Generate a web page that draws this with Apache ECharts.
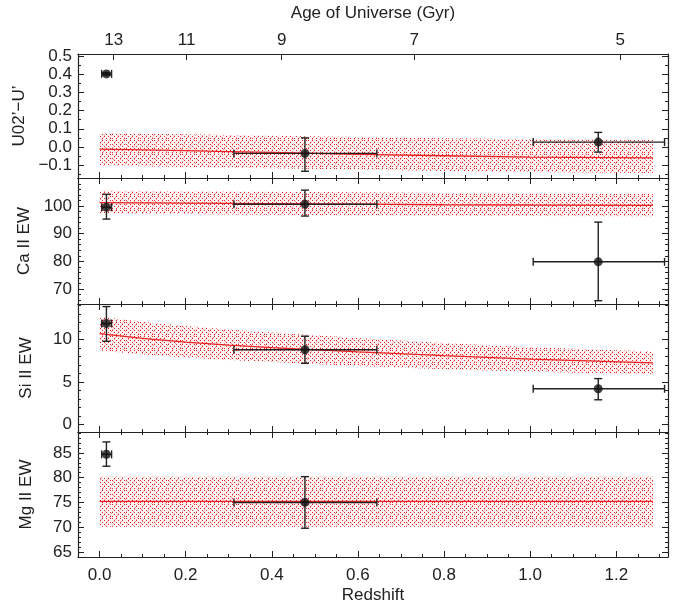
<!DOCTYPE html>
<html><head><meta charset="utf-8">
<script src="https://cdn.jsdelivr.net/npm/echarts@6/dist/echarts.min.js"></script>
<style>html,body{margin:0;padding:0;background:#fff}#c{width:678px;height:605px}</style>
</head><body><div id="c"></div>
<script>
// ---------- data ----------
const zMin = -0.05, zMax = 1.32;
const redshiftTicks = [0, 0.2, 0.4, 0.6, 0.8, 1.0, 1.2];
const redshiftMinor = [-0.05, 0.05, 0.1, 0.15, 0.25, 0.3, 0.35, 0.45, 0.5, 0.55, 0.65, 0.7, 0.75, 0.85, 0.9, 0.95, 1.05, 1.1, 1.15, 1.25, 1.3];
const ageLabels = [13, 11, 9, 7, 5];
const ageTickZ = [0.033, 0.202, 0.423, 0.731, 1.209];

const obsZ   = [0.016, 0.477, 1.158];
const obsZlo = [0.005, 0.312, 1.007];
const obsZhi = [0.028, 0.644, 1.312];

const uY   = [0.401, -0.035, 0.027];
const uYlo = [0.394, -0.133, -0.028];
const uYhi = [0.408, 0.050, 0.080];

const caY   = [99.6, 100.7, 79.8];
const caYlo = [95.3, 96.4, 65.7];
const caYhi = [104.3, 105.8, 94.2];

const siY   = [11.9, 8.8, 4.2];
const siYlo = [9.8, 7.2, 2.9];
const siYhi = [13.9, 10.4, 5.4];

const mgY   = [84.7, 75.0];
const mgYlo = [82.3, 69.8];
const mgYhi = [87.2, 80.2];

const zModel = [0, 0.1, 0.2, 0.3, 0.4, 0.6, 0.8, 1.0, 1.285];
const uMid = [-0.012, -0.016, -0.020, -0.025, -0.030, -0.040, -0.048, -0.055, -0.060];
const uHi  = [0.077, 0.073, 0.070, 0.066, 0.062, 0.055, 0.048, 0.042, 0.038];
const uLo  = [-0.102, -0.106, -0.110, -0.114, -0.117, -0.124, -0.131, -0.137, -0.143];
const caMid = [101.3, 101.2, 101.1, 101.0, 100.9, 100.7, 100.5, 100.4, 100.3];
const caHi  = [105.6, 105.5, 105.4, 105.3, 105.2, 105.0, 104.8, 104.6, 104.5];
const caLo  = [97.3, 97.2, 97.1, 97.0, 96.9, 96.7, 96.5, 96.4, 96.3];
const siMid = [10.7, 10.15, 9.7, 9.35, 9.05, 8.55, 8.1, 7.7, 7.25];
const siHi  = [12.7, 12.1, 11.6, 11.2, 10.85, 10.2, 9.6, 9.1, 8.6];
const siLo  = [8.7, 8.25, 7.9, 7.6, 7.35, 6.9, 6.5, 6.2, 5.9];
const mgMid = [75.2, 75.2, 75.2, 75.2, 75.2, 75.2, 75.2, 75.2, 75.2];
const mgHi  = [80.2, 80.2, 80.2, 80.2, 80.2, 80.2, 80.2, 80.2, 80.2];
const mgLo  = [70.1, 70.1, 70.1, 70.1, 70.1, 70.1, 70.1, 70.1, 70.1];

const panels = [
  {name: 'U02\u2019\u2212U\u2019', min: -0.17, max: 0.51, top: 54, height: 124,
   major: [-0.1, 0, 0.1, 0.2, 0.3, 0.4, 0.5], minor: [-0.15, -0.05, 0.05, 0.15, 0.25, 0.35, 0.45], dec: 1,
   y: uY, ylo: uYlo, yhi: uYhi, mid: uMid, hi: uHi, lo: uLo},
  {name: 'Ca II EW', min: 64.5, max: 110.2, top: 178, height: 126,
   major: [70, 80, 90, 100, 110], minor: [66, 68, 72, 74, 76, 78, 82, 84, 86, 88, 92, 94, 96, 98, 102, 104, 106, 108], dec: 0, hideLabel: [110],
   y: caY, ylo: caYlo, yhi: caYhi, mid: caMid, hi: caHi, lo: caLo},
  {name: 'Si II EW', min: -0.9, max: 14.2, top: 304, height: 128,
   major: [0, 5, 10], minor: [1, 2, 3, 4, 6, 7, 8, 9, 11, 12, 13, 14], dec: 0,
   y: siY, ylo: siYlo, yhi: siYhi, mid: siMid, hi: siHi, lo: siLo},
  {name: 'Mg II EW', min: 64, max: 89.2, top: 432, height: 126,
   major: [65, 70, 75, 80, 85], minor: [66, 67, 68, 69, 71, 72, 73, 74, 76, 77, 78, 79, 81, 82, 83, 84, 86, 87, 88, 89], dec: 0,
   y: mgY, ylo: mgYlo, yhi: mgYhi, mid: mgMid, hi: mgHi, lo: mgLo}
];

// ---------- styles ----------
const FONT = 'Liberation Sans';
const INK = '#222';
const FS = 17;

function makePattern() {
  const c = document.createElement('canvas');
  c.width = 14; c.height = 14;
  const g = c.getContext('2d');
  g.fillStyle = 'rgba(255,236,236,0.5)';
  g.fillRect(0, 0, 14, 14);
  for (let y = 0; y < 14; y++) {
    for (let x = 0; x < 14; x++) {
      if (y % 2 === 0 && (x + y) % 4 === 0) { g.fillStyle = 'rgba(230,20,20,0.95)'; g.fillRect(x, y, 1, 1); }
      else if (y % 2 === 1 && (2 * x + y) % 7 === 0) { g.fillStyle = 'rgba(245,120,120,0.75)'; g.fillRect(x, y, 1, 1); }
    }
  }
  return c;
}
const bandFill = {image: makePattern(), repeat: 'repeat'};

const chart = echarts.init(document.getElementById('c'));
const grids = [], xAxes = [], yAxes = [], series = [];

function lineStyleAxis() { return {color: INK, width: 1.2}; }
const hiddenLine = {show: false, onZero: false};

panels.forEach((p, gi) => {
  grids.push({left: 78, right: 10, top: p.top, height: p.height, containLabel: false});
  // bottom x axes
  const xMainIdx = xAxes.length;
  const isLast = gi === panels.length - 1;
  xAxes.push({type: 'value', gridIndex: gi, min: zMin, max: zMax, position: 'bottom',
    axisLine: {show: true, onZero: false, lineStyle: lineStyleAxis()},
    axisTick: {show: true, inside: true, length: 6, customValues: redshiftTicks, lineStyle: {color: INK, width: 1}},
    axisLabel: {show: isLast, customValues: redshiftTicks, margin: 10, fontFamily: FONT, fontSize: FS, color: INK,
      formatter: v => v.toFixed(1)},
    splitLine: {show: false},
    name: isLast ? 'Redshift' : '', nameLocation: 'middle', nameGap: 30,
    nameTextStyle: {fontFamily: FONT, fontSize: FS, color: INK}});
  xAxes.push({type: 'value', gridIndex: gi, min: zMin, max: zMax, position: 'bottom',
    axisLine: hiddenLine, axisTick: {show: true, inside: true, length: 3, customValues: redshiftMinor, lineStyle: {color: INK, width: 1}},
    axisLabel: {show: false, customValues: redshiftMinor}, splitLine: {show: false}});
  // top x axes
  if (gi === 0) {
    xAxes.push({type: 'value', gridIndex: gi, min: zMin, max: zMax, position: 'top',
      axisLine: {show: true, onZero: false, lineStyle: lineStyleAxis()},
      axisTick: {show: true, inside: true, length: 6, customValues: ageTickZ, lineStyle: {color: INK, width: 1}},
      axisLabel: {show: true, customValues: ageTickZ, margin: 5, fontFamily: FONT, fontSize: FS, color: INK,
        formatter: v => {
          let best = 0;
          ageTickZ.forEach((z, i) => { if (Math.abs(z - v) < Math.abs(ageTickZ[best] - v)) best = i; });
          return String(ageLabels[best]);
        }},
      splitLine: {show: false},
      name: 'Age of Universe (Gyr)', nameLocation: 'middle', nameGap: 32,
      nameTextStyle: {fontFamily: FONT, fontSize: FS, color: INK}});
  } else {
    xAxes.push({type: 'value', gridIndex: gi, min: zMin, max: zMax, position: 'top',
      axisLine: {show: true, onZero: false, lineStyle: lineStyleAxis()},
      axisTick: {show: true, inside: true, length: 6, customValues: redshiftTicks, lineStyle: {color: INK, width: 1}},
      axisLabel: {show: false, customValues: redshiftTicks}, splitLine: {show: false}});
    xAxes.push({type: 'value', gridIndex: gi, min: zMin, max: zMax, position: 'top',
      axisLine: hiddenLine, axisTick: {show: true, inside: true, length: 3, customValues: redshiftMinor, lineStyle: {color: INK, width: 1}},
      axisLabel: {show: false, customValues: redshiftMinor}, splitLine: {show: false}});
  }
  // y axes
  const yMainIdx = yAxes.length;
  const labelVals = p.major.filter(v => !(p.hideLabel || []).includes(v));
  yAxes.push({type: 'value', gridIndex: gi, min: p.min, max: p.max, position: 'left',
    axisLine: {show: true, onZero: false, lineStyle: lineStyleAxis()},
    axisTick: {show: true, inside: true, length: 6, customValues: p.major, lineStyle: {color: INK, width: 1}},
    axisLabel: {show: true, customValues: labelVals, margin: 6, fontFamily: FONT, fontSize: FS, color: INK,
      formatter: v => v.toFixed(p.dec).replace('-', '\u2212')},
    splitLine: {show: false},
    name: p.name, nameLocation: 'middle', nameGap: 43,
    nameTextStyle: {fontFamily: FONT, fontSize: FS, color: INK}});
  yAxes.push({type: 'value', gridIndex: gi, min: p.min, max: p.max, position: 'left',
    axisLine: hiddenLine, axisTick: {show: true, inside: true, length: 3, customValues: p.minor, lineStyle: {color: INK, width: 1}},
    axisLabel: {show: false, customValues: p.minor}, splitLine: {show: false}});
  yAxes.push({type: 'value', gridIndex: gi, min: p.min, max: p.max, position: 'right',
    axisLine: {show: true, onZero: false, lineStyle: lineStyleAxis()},
    axisTick: {show: true, inside: true, length: 6, customValues: p.major, lineStyle: {color: INK, width: 1}},
    axisLabel: {show: false, customValues: p.major}, splitLine: {show: false}});
  yAxes.push({type: 'value', gridIndex: gi, min: p.min, max: p.max, position: 'right',
    axisLine: hiddenLine, axisTick: {show: true, inside: true, length: 3, customValues: p.minor, lineStyle: {color: INK, width: 1}},
    axisLabel: {show: false, customValues: p.minor}, splitLine: {show: false}});

  // band
  const bandData = zModel.map((z, i) => [z, p.lo[i], p.hi[i]]);
  series.push({type: 'custom', xAxisIndex: xMainIdx, yAxisIndex: yMainIdx, z: 1,
    data: bandData, encode: {x: 0, y: [1, 2]}, silent: true,
    renderItem: (params, api) => {
      if (params.dataIndex !== 0) return null;
      const pts = [];
      for (let i = 0; i < zModel.length; i++) pts.push(api.coord([zModel[i], p.hi[i]]));
      for (let i = zModel.length - 1; i >= 0; i--) pts.push(api.coord([zModel[i], p.lo[i]]));
      return {type: 'polygon', shape: {points: pts, smooth: 0}, style: {fill: bandFill, stroke: null}};
    }});
  // model line
  series.push({type: 'line', xAxisIndex: xMainIdx, yAxisIndex: yMainIdx, z: 2,
    data: zModel.map((z, i) => [z, p.mid[i]]), showSymbol: false, silent: true,
    lineStyle: {color: '#ee2222', width: 1.3}});
  // error bars
  const errData = p.y.map((v, i) => [obsZ[i], v, obsZlo[i], obsZhi[i], p.ylo[i], p.yhi[i]]);
  series.push({type: 'custom', xAxisIndex: xMainIdx, yAxisIndex: yMainIdx, z: 3,
    data: errData, encode: {x: [0, 2, 3], y: [1, 4, 5]}, silent: true,
    renderItem: (params, api) => {
      const x = api.value(0), y = api.value(1);
      const pL = api.coord([api.value(2), y]), pR = api.coord([api.value(3), y]);
      const pB = api.coord([x, api.value(4)]), pT = api.coord([x, api.value(5)]);
      const c = 4, st = {stroke: INK, lineWidth: 1.4};
      const ln = (x1, y1, x2, y2) => ({type: 'line', shape: {x1, y1, x2, y2}, style: st});
      return {type: 'group', children: [
        ln(pL[0], pL[1], pR[0], pR[1]),
        ln(pL[0], pL[1] - c, pL[0], pL[1] + c),
        ln(pR[0], pR[1] - c, pR[0], pR[1] + c),
        ln(pB[0], pB[1], pT[0], pT[1]),
        ln(pB[0] - c, pB[1], pB[0] + c, pB[1]),
        ln(pT[0] - c, pT[1], pT[0] + c, pT[1])
      ]};
    }});
  // points
  series.push({type: 'scatter', xAxisIndex: xMainIdx, yAxisIndex: yMainIdx, z: 4,
    data: p.y.map((v, i) => [obsZ[i], v]), symbol: 'circle', symbolSize: 9, silent: true,
    itemStyle: {color: '#111'}});
});

chart.setOption({
  animation: false,
  backgroundColor: '#fff',
  grid: grids, xAxis: xAxes, yAxis: yAxes, series: series
});
</script></body></html>
